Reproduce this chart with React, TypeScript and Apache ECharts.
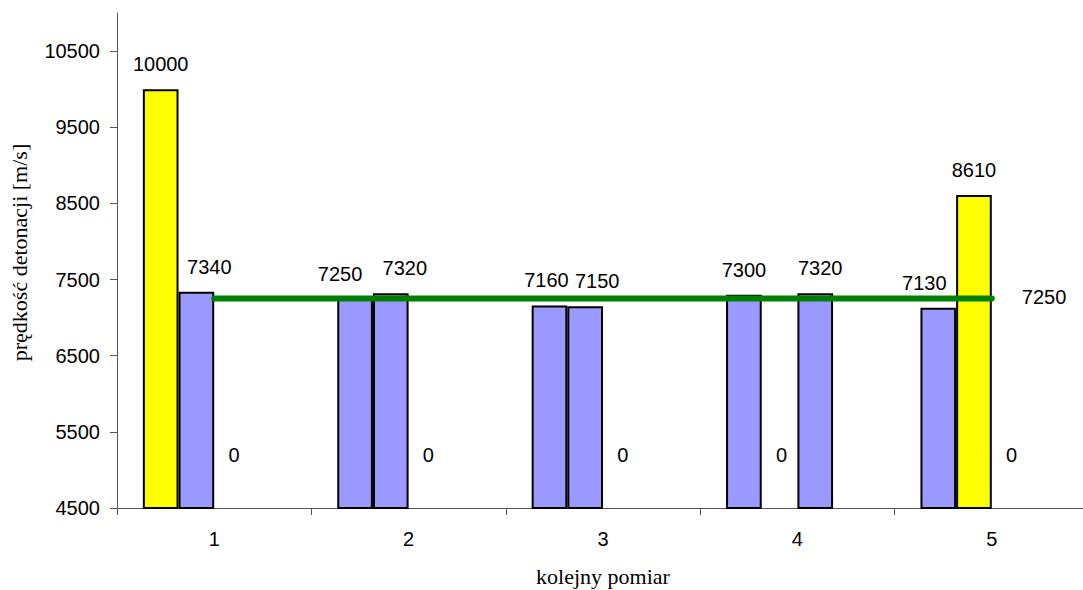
import React, { useEffect, useRef } from "react";
import * as echarts from "echarts";

const categories = ["1", "2", "3", "4", "5"];
const seriesA: (number | null)[] = [10000, 7250, 7160, 7300, 7130];
const seriesB: (number | null)[] = [7340, 7320, 7150, 0, 8610];
const seriesC: (number | null)[] = [0, 0, 0, 7320, 0];
const seriesD: (number | null)[] = [null, null, null, null, null];
const highlightA = [true, false, false, false, false];
const highlightB = [false, false, false, false, true];
const meanLine = [7250, 7250, 7250, 7250, 7250];
const yTicks = [4500, 5500, 6500, 7500, 8500, 9500, 10500];
const yMin = 4500;
const yMax = 11000;

// layout only: horizontal nudges of value labels (px), as in the reference
const labelShiftA = [0, -15, -3, 0, -14];
const labelShiftB = [13, 14, 12, 0, 0];
const labelShiftC = [0, 0, 0, 5, 0];
const labelShiftD = [0, 0, 0, 0, 0];

const YELLOW = "#FFFF00";
const BLUE = "#9999FF";
const NUM_FONT = "'Liberation Sans', Arial, sans-serif";
const SERIF_FONT = "'Liberation Serif', 'Times New Roman', serif";
const CATEGORY_GAP = 0.266;
const BAR_SERIES = [seriesA, seriesB, seriesC, seriesD];

function barData(values: (number | null)[], shifts: number[], highlight?: boolean[]) {
  return values.map((v, i) => ({
    value: v,
    itemStyle: { color: highlight && highlight[i] ? YELLOW : BLUE },
    label: { show: v !== null && v !== 0, offset: [shifts[i], 0] },
  }));
}

export default function App() {
  const ref = useRef<HTMLDivElement>(null);
  useEffect(() => {
    document.body.style.margin = "0";
    if (!ref.current) return;
    const chart = echarts.init(ref.current, null, { renderer: "svg" });

    const zeroPoints: number[][] = [];
    BAR_SERIES.forEach((arr, s) => {
      arr.forEach((v, i) => {
        if (v === 0) zeroPoints.push([i, s, 0]);
      });
    });

    const barCommon = {
      type: "bar",
      barGap: "0%",
      barCategoryGap: CATEGORY_GAP * 100 + "%",
      itemStyle: { borderColor: "#000", borderWidth: 2 },
      label: {
        position: "top",
        distance: 15,
        fontSize: 20,
        fontFamily: NUM_FONT,
        color: "#000",
      },
      z: 2,
    };

    chart.setOption({
      animation: false,
      grid: {
        left: 117,
        right: -6,
        top: 13,
        bottom: 82,
        containLabel: false,
        outerBoundsMode: "none",
      },
      xAxis: {
        type: "category",
        data: categories,
        boundaryGap: true,
        name: "kolejny pomiar",
        nameLocation: "middle",
        nameGap: 57,
        nameTextStyle: { fontFamily: SERIF_FONT, fontSize: 22, color: "#000" },
        axisLine: { lineStyle: { color: "#555", width: 1 } },
        axisTick: { show: true, length: 7, alignWithLabel: false, lineStyle: { color: "#555" } },
        axisLabel: { fontSize: 20, fontFamily: NUM_FONT, color: "#000", margin: 21 },
        splitLine: { show: false },
      },
      yAxis: {
        type: "value",
        min: yMin,
        max: yMax,
        name: "prędkość detonacji [m/s]",
        nameLocation: "middle",
        nameGap: 87,
        nameTextStyle: {
          fontFamily: SERIF_FONT,
          fontSize: 22,
          color: "#000",
          padding: [0, 0, 0, 16],
        },
        axisLine: { show: true, lineStyle: { color: "#555", width: 1 } },
        axisTick: { show: true, length: 7, lineStyle: { color: "#555" }, customValues: yTicks },
        axisLabel: {
          fontSize: 20,
          fontFamily: NUM_FONT,
          color: "#000",
          margin: 17,
          customValues: yTicks,
          formatter: (v: number) => String(v),
        },
        splitLine: { show: false },
      },
      series: [
        { ...barCommon, name: "A", data: barData(seriesA, labelShiftA, highlightA) },
        { ...barCommon, name: "B", data: barData(seriesB, labelShiftB, highlightB) },
        { ...barCommon, name: "C", data: barData(seriesC, labelShiftC) },
        { ...barCommon, name: "D", data: barData(seriesD, labelShiftD) },
        {
          type: "line",
          name: "mean",
          data: meanLine,
          symbol: "none",
          z: 5,
          lineStyle: { color: "#008000", width: 6, cap: "round" },
          endLabel: {
            show: true,
            formatter: (p: any) => String(p.value),
            distance: 30,
            offset: [0, -2],
            fontSize: 20,
            fontFamily: NUM_FONT,
            color: "#000",
          },
        },
        {
          type: "custom",
          name: "zeros",
          data: zeroPoints,
          z: 6,
          renderItem: (params: any, api: any) => {
            const cat = api.value(0);
            const slot = api.value(1);
            const base = api.coord([cat, yMin]);
            const band = api.size([1, 0])[0];
            const barW = (band * (1 - CATEGORY_GAP)) / BAR_SERIES.length;
            const x = base[0] - (BAR_SERIES.length / 2) * barW + (slot + 0.5) * barW + 2;
            return {
              type: "text",
              x,
              y: base[1] - 53,
              style: {
                text: String(api.value(2)),
                fontSize: 20,
                fontFamily: NUM_FONT,
                fill: "#000",
                align: "center",
                verticalAlign: "middle",
              },
            };
          },
        },
      ],
    });
    return () => chart.dispose();
  }, []);
  return <div ref={ref} style={{ width: 1083, height: 590 }} />;
}
